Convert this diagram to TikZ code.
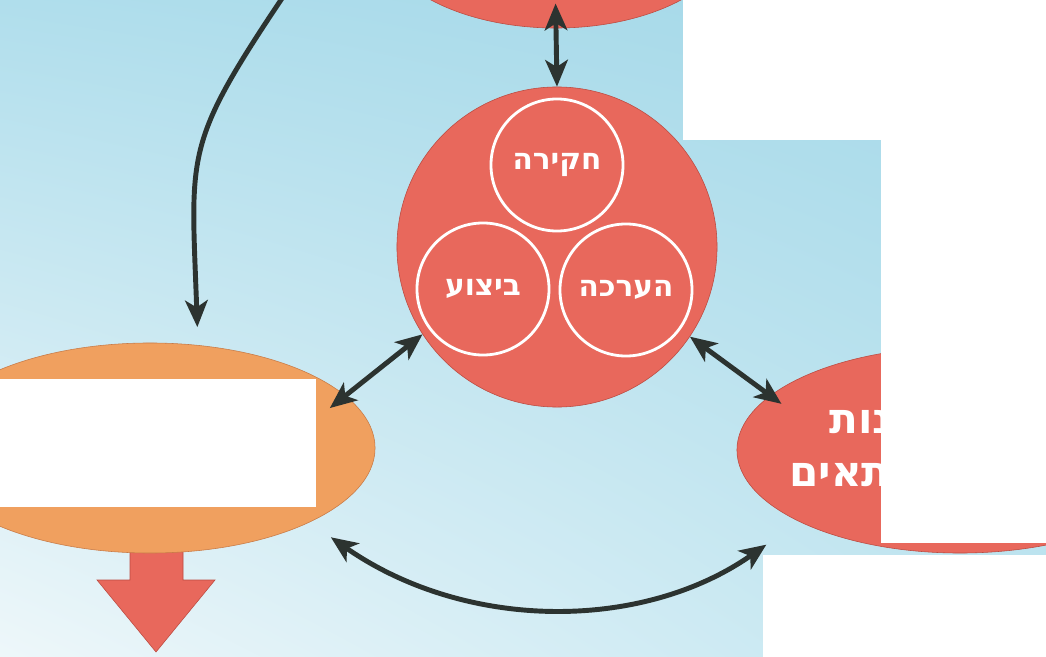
\documentclass[tikz,border=0pt]{standalone}
\usepackage{fontspec}
\newfontfamily\hebfont[Script=Hebrew]{DejaVu Sans}
\TeXXeTstate=1
\usepackage{tikz}
\usetikzlibrary{shapes.geometric,arrows.meta,shadings}
\definecolor{salmon}{RGB}{232,104,92}
\definecolor{rim}{RGB}{188,74,64}
\definecolor{apricot}{RGB}{240,160,95}
\definecolor{apricotrim}{RGB}{200,122,70}
\definecolor{ink}{RGB}{44,51,48}
\definecolor{skyUL}{RGB}{176,222,236}
\definecolor{skyUR}{RGB}{164,216,232}
\definecolor{skyLL}{RGB}{238,247,250}
\definecolor{skyLR}{RGB}{192,229,240}
\tikzset{
	oval/.style     = {draw=rim, thin, ellipse, inner sep=0pt, fill=salmon},
	hub/.style      = {draw=rim, thin, circle, fill=salmon, inner sep=0pt,
		minimum size=8cm},
	phase/.style    = {draw=white, line width=2pt, circle, inner sep=0pt,
		minimum size=3.3cm, text=white,
		font=\hebfont\bfseries\fontsize{21}{24}\selectfont},
	ovaltext/.style = {text=white, inner sep=0pt, anchor=west,
		font=\hebfont\bfseries\fontsize{30}{34}\selectfont},
	link/.style     = {draw=ink, line width=3.5pt}
}

\begin{document}
\begin{tikzpicture}[x=0.025cm, y=0.025cm, >={Stealth[length=19pt,width=16pt,inset=5pt]}]
	\shade[upper left=skyUL, upper right=skyUR, lower left=skyLL, lower right=skyLR]
	(0,0) rectangle (1046,-657);
	\useasboundingbox (0,0) rectangle (1046,-657);
	
	% output arrow
	\draw[draw=rim, fill=salmon] (130,-540) -- (130,-580) -- (97,-580) -- (156,-652)
	-- (215,-580) -- (183,-580) -- (183,-540);
	
	\draw
	node at (556,72)[oval, minimum width=9cm, minimum height=5cm] (top) {}
	node at (557,-247)[hub] (hub) {}
	node at (557,-165)[phase] (probe) {\beginR חקירה\endR}
	node at (483,-289)[phase] (act) {\beginR ביצוע\endR}
	node at (626,-290)[phase] (assess) {\beginR הערכה\endR}
	node at (150,-448)[oval, fill=apricot, draw=apricotrim,
	minimum width=11.25cm, minimum height=5.25cm] (out) {}
	node at (960,-450)[oval, minimum width=11.15cm, minimum height=5.15cm] (fit) {}
	node at (829,-422)[ovaltext] (fitA) {\beginR נות\endR}
	node at (789,-475)[ovaltext] (fitB) {\beginR תאים\endR}
	;
	\coordinate (src) at (293,18);
	
	\draw[link, <->, shorten <=-0.62cm] (top.south) -- (hub.north);
	\draw[link, <->, shorten >=-0.5cm] (hub.213) -- (out.15);
	\draw[link, <->, shorten >=-0.35cm] (hub.326) -- (fit.164);
	\draw[link, <->, shorten <=0.65cm, shorten >=1cm] (out.335) to[bend right=35] (fit.204);
	\draw[link, ->, shorten >=0.45cm] (src) to[out=-124, in=92, looseness=1.35] (out.65);
	
	% masked areas
	\fill[white] (683,0) rectangle (1046,-140);
	\fill[white] (881,0) rectangle (1046,-543);
	\fill[white] (763,-555) rectangle (1046,-657);
	\fill[white] (0,-379) rectangle (316,-507);
\end{tikzpicture}
\end{document}
